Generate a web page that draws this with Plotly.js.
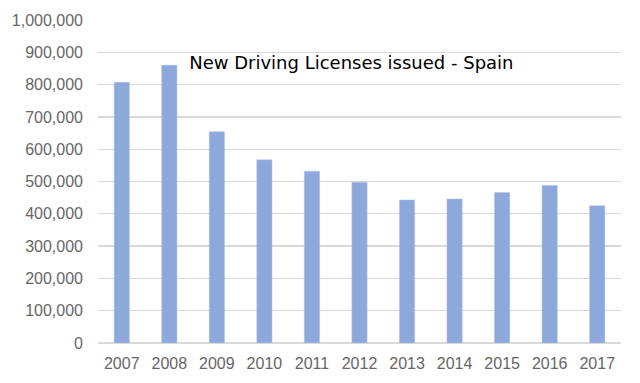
<!DOCTYPE html>
<html>
<head>
<meta charset="utf-8">
<script src="https://cdn.plot.ly/plotly-3.0.1.min.js"></script>
<style>html,body{margin:0;padding:0;background:#fff;}#chart{width:640px;height:383px;}</style>
</head>
<body>
<div id="chart"></div>
<script>
const years = ['2007','2008','2009','2010','2011','2012','2013','2014','2015','2016','2017'];
const licenses = [807000, 860000, 654000, 567000, 532000, 498000, 443000, 446000, 466000, 488000, 425000];
const yTickVals = [0,100000,200000,300000,400000,500000,600000,700000,800000,900000,1000000];
const yTickText = ['0','100,000','200,000','300,000','400,000','500,000','600,000','700,000','800,000','900,000','1,000,000'];
const chartTitle = 'New Driving Licenses issued - Spain';

const trace = {
  type: 'bar',
  x: years,
  y: licenses,
  marker: {color: '#8DA9DB', line: {color: '#A9C0E6', width: 0.5}},
  hoverinfo: 'x+y'
};

const layout = {
  width: 640, height: 383,
  margin: {l: 98, r: 19, t: 19.5, b: 40.3, pad: 0},
  paper_bgcolor: '#fff', plot_bgcolor: '#fff',
  showlegend: false,
  bargap: 0.68,
  font: {family: 'Liberation Sans, Arial, sans-serif', size: 16, color: '#666666'},
  title: {
    text: chartTitle,
    xref: 'container', yref: 'container',
    x: 0.549, y: 1 - 63/383, xanchor: 'center', yanchor: 'middle',
    font: {family: 'DejaVu Sans, sans-serif', size: 18, color: '#000'}
  },
  xaxis: {
    type: 'category',
    showgrid: false, zeroline: false, showline: false,
    ticks: '', ticklabelstandoff: 9,
    tickfont: {size: 16, color: '#666666'}
  },
  yaxis: {
    range: [0, 1000000],
    tickvals: yTickVals, ticktext: yTickText,
    showgrid: true, gridcolor: '#D9D9D9', gridwidth: 1.3,
    zeroline: true, zerolinecolor: '#D9D9D9', zerolinewidth: 1.3,
    showline: false, ticks: '', ticklabelstandoff: 14,
    tickfont: {size: 16, color: '#666666'}
  }
};

Plotly.newPlot('chart', [trace], layout, {displayModeBar: false, staticPlot: true});
</script>
</body>
</html>
